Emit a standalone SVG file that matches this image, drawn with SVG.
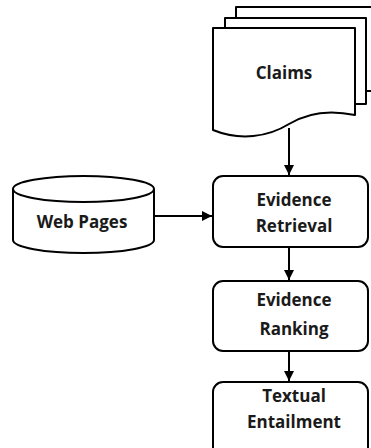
<svg xmlns="http://www.w3.org/2000/svg" width="371" height="448" viewBox="0 0 371 448">
  <style>
    .shape { fill: #ffffff; stroke: #000000; stroke-width: 2; stroke-linejoin: round; }
    .edge { fill: none; stroke: #000000; stroke-width: 2; }
    .label { font-family: "Open Sans", "Liberation Sans", sans-serif; font-weight: bold; font-size: 17px; fill: #1a1a1a; text-anchor: middle; }
  </style>
  <defs>
    <marker id="arrow" viewBox="0 0 10 10" refX="10" refY="5" markerWidth="10" markerHeight="10" markerUnits="userSpaceOnUse" orient="auto">
      <path d="M0,0 L10,5 L0,10 Z" fill="#000000"/>
    </marker>
  </defs>
  <rect width="371" height="448" fill="#ffffff"/>

  <!-- Claims: stacked documents -->
  <g id="claims">
    <path class="shape" d="M236,18 V7 H376 V91 H366"/>
    <path class="shape" d="M225,28 V18 H366 V104 H355"/>
    <path class="shape" d="M213,28 H355 V115 C322,108 302,116 289,124 C268,137 240,141 213,130 Z"/>
    <text class="label" x="284" y="79">Claims</text>
  </g>

  <!-- Web Pages: database cylinder -->
  <g id="web-pages">
    <path class="shape" d="M13,189 V240 A70.5,13 0 0 0 154,240 V189"/>
    <ellipse class="shape" cx="83.5" cy="189" rx="70.5" ry="13"/>
    <text class="label" x="82" y="228">Web Pages</text>
  </g>

  <g id="evidence-retrieval">
    <rect class="shape" x="213" y="176" width="155" height="71" rx="10" ry="10"/>
    <text class="label" x="294" y="206">Evidence</text>
    <text class="label" x="294" y="232">Retrieval</text>
  </g>

  <g id="evidence-ranking">
    <rect class="shape" x="213" y="281" width="155" height="70" rx="10" ry="10"/>
    <text class="label" x="294" y="306">Evidence</text>
    <text class="label" x="294" y="335">Ranking</text>
  </g>

  <g id="textual-entailment">
    <rect class="shape" x="213" y="382" width="155" height="80" rx="10" ry="10"/>
    <text class="label" x="294" y="402">Textual</text>
    <text class="label" x="294" y="428">Entailment</text>
  </g>

  <g id="connectors">
    <line class="edge" x1="289" y1="128" x2="289" y2="175" marker-end="url(#arrow)"/>
    <line class="edge" x1="154" y1="216" x2="212" y2="216" marker-end="url(#arrow)"/>
    <line class="edge" x1="289" y1="247" x2="289" y2="280" marker-end="url(#arrow)"/>
    <line class="edge" x1="289" y1="351" x2="289" y2="381" marker-end="url(#arrow)"/>
  </g>
</svg>
